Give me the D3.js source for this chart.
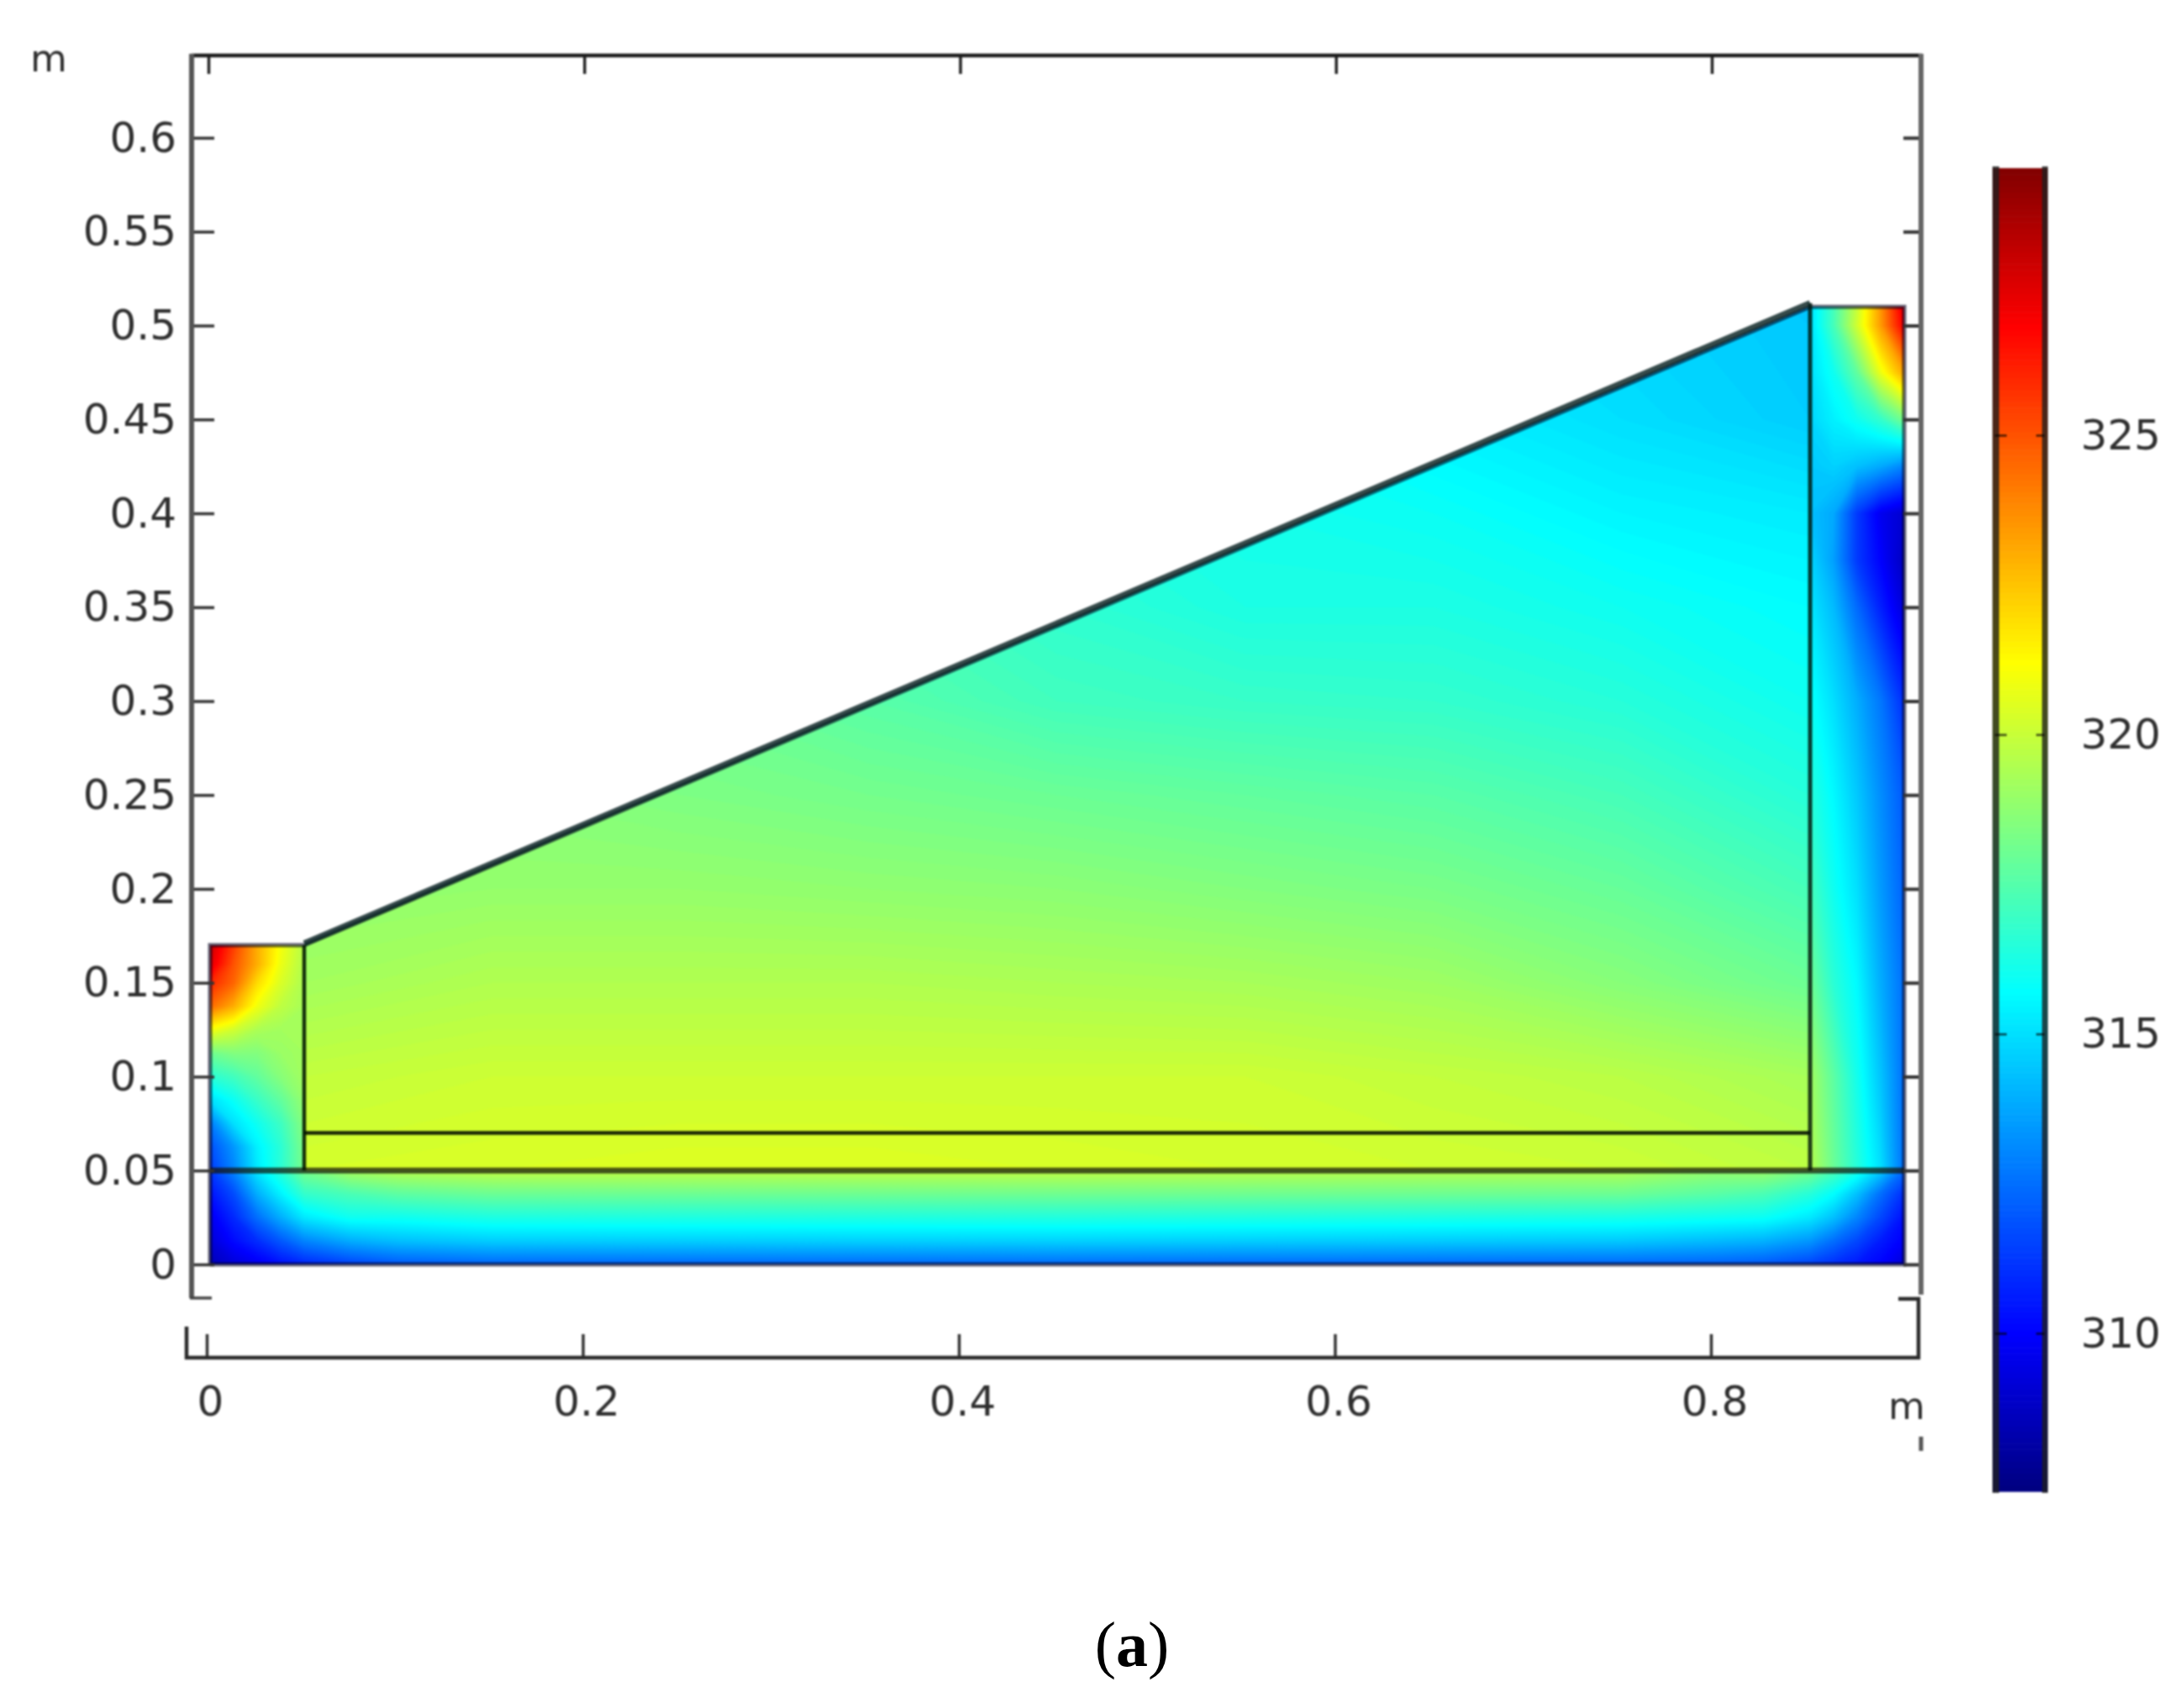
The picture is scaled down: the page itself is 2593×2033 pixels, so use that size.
<!DOCTYPE html>
<html><head><meta charset="utf-8">
<script src="https://cdn.jsdelivr.net/npm/d3@7/dist/d3.min.js"></script>
<style>
html,body{margin:0;padding:0;background:#fff}
svg{display:block}
text{font-family:"DejaVu Sans",sans-serif;fill:#2e2e2e}
</style></head><body>
<svg id="c" width="2593" height="2033"></svg>
<script>
// ---- tick labels ----
const yTicks=[0,0.05,0.1,0.15,0.2,0.25,0.3,0.35,0.4,0.45,0.5,0.55,0.6];
const xTicks=[0,0.2,0.4,0.6,0.8];
const barTicks=[310,315,320,325];
// ---- colour table (temperature, K -> colour) ----
const tempStops=[307.36,310,312.9,315.7,318.45,321.2,324,326.8,329.5];
const tempColors=["#00007f","#0000ff","#0080ff","#00ffff","#80ff80","#ffff00","#ff8000","#ff0000","#7f0000"];
// ---- geometry, metres ----
const domainOutline=[[0,0],[0.9,0],[0.9,0.51],[0.85,0.51],[0.05,0.17],[0,0.17],[0,0]];
const interiorOutline=[[0.05,0.05],[0.85,0.05],[0.85,0.51],[0.05,0.17]];
// ---- temperature: interior air ----
const airX=[0.05,0.15,0.25,0.35,0.45,0.55,0.65,0.75,0.85];
const airY=[0.05,0.1,0.15,0.2,0.25,0.3,0.35,0.4,0.45,0.5,0.55];
const airT=[
[320.3,320.4,320.5,320.5,320.4,320.3,320.2,320.1,319.8],
[319.9,320.1,320.1,320.1,320.1,320.1,319.9,319.7,319.3],
[319.2,319.5,319.5,319.5,319.4,319.3,319.1,318.6,318.0],
[318.8,318.9,318.9,318.8,318.7,318.5,318.3,317.9,317.2],
[318.5,318.6,318.4,318.2,318.0,317.8,317.6,317.2,316.5],
[318.2,318.3,318.0,317.6,317.1,316.9,316.8,316.5,316.0],
[318.0,318.0,317.7,317.2,316.7,316.3,316.3,316.0,315.7],
[317.8,317.8,317.4,316.9,316.4,316.1,315.9,315.5,315.3],
[317.6,317.6,317.2,316.7,316.2,315.8,315.4,315.0,314.6],
[317.4,317.4,317.0,316.5,316.0,315.5,315.1,314.8,314.5],
[317.2,317.2,316.8,316.3,315.8,315.3,314.9,314.6,314.3]];
// ---- bottom slab ----
const slabX=[0,0.0125,0.025,0.0375,0.05,0.075,0.1,0.15,0.45,0.75,0.8,0.825,0.85,0.8625,0.875,0.8875,0.9];
const slabY=[0,0.0125,0.025,0.0375,0.05];
const slabT=[
[308.5,309.2,309.7,310.3,310.8,311.5,312.0,312.3,312.4,312.3,312.2,312.0,311.5,311.0,310.5,310.0,309.2],
[309.2,310.2,311.0,312.0,313.0,313.9,314.3,314.6,314.7,314.5,314.2,314.0,313.4,312.5,311.6,310.6,309.9],
[309.7,310.9,312.5,313.9,315.2,316.0,316.0,316.3,316.4,316.2,316.0,315.9,315.2,314.3,313.0,311.6,310.3],
[310.4,311.7,313.9,315.4,316.8,317.3,317.7,318.0,318.1,318.0,317.6,317.3,316.5,315.7,314.3,312.5,311.0],
[311.3,313.0,315.2,316.6,318.3,319.3,319.6,319.8,319.8,319.5,318.9,319.0,318.3,317.3,316.2,314.6,312.4]];
// ---- left wall ----
const leftX=[0,0.0125,0.025,0.0375,0.05];
const leftY=[0.05,0.0625,0.075,0.0875,0.1,0.1125,0.125,0.1375,0.15,0.16,0.17];
const leftT=[
[311.3,313.0,315.2,316.6,318.3],
[311.8,313.4,315.4,316.6,318.4],
[312.8,315.0,316.0,317.0,318.6],
[315.0,315.9,316.9,317.8,318.9],
[316.6,317.1,317.8,318.6,319.2],
[318.1,318.5,318.5,319.0,319.2],
[321.0,320.2,319.4,319.2,319.2],
[324.5,323.0,320.9,319.8,319.3],
[326.0,324.6,322.0,320.4,319.4],
[327.5,325.0,323.0,320.8,319.5],
[328.0,325.5,323.0,321.0,319.6]];
// ---- right wall ----
const rightX=[0.85,0.8625,0.875,0.8875,0.9];
const rightY=[0.05,0.1,0.15,0.2,0.25,0.3,0.35,0.375,0.4,0.425,0.45,0.475,0.5,0.51];
const rightT=[
[319.6,318.0,316.5,315.0,312.5],
[319.2,317.7,316.1,314.4,312.5],
[318.1,316.6,315.6,313.9,312.5],
[317.2,316.0,315.0,313.5,312.2],
[316.5,315.6,314.5,313.2,312.0],
[315.9,315.0,313.9,312.7,311.0],
[315.2,314.2,312.4,310.7,309.2],
[314.8,313.6,311.3,310.0,308.7],
[314.3,313.8,311.3,309.7,309.0],
[314.5,314.7,314.3,313.8,313.0],
[314.8,315.4,316.0,316.8,318.3],
[315.0,316.0,317.8,320.8,323.2],
[315.0,317.2,320.2,323.4,327.0],
[315.0,317.2,320.0,323.5,327.5]];

// ---- scales ----
const svg=d3.select("#c");
const root=svg.append("g").style("filter","blur(0.9px)");
const x=d3.scaleLinear().domain([0,0.9]).range([250,2266]);
const y=d3.scaleLinear().domain([0,0.6]).range([1505,164]);
const xAxisScale=d3.scaleLinear().domain([0,0.8]).range([246,2036]);
const xTopScale=d3.scaleLinear().domain([0,0.8]).range([248,2037]);
const tempY=d3.scaleLinear().domain([310,325]).range([1587,518]);
const color=d3.scaleLinear().domain(tempStops).range(tempColors).interpolate(d3.interpolateRgb).clamp(true);
const levels=d3.range(307.3,329.6,0.1);

// ---- temperature field as filled contours ----
function drawField(xs,ys,rows,clipId){
  const nx=xs.length,ny=ys.length,flat=rows.flat();
  const gx=d3.scaleLinear().domain(xs.map((_,i)=>i+0.5)).range(xs.map(v=>x(v))).clamp(true);
  const gy=d3.scaleLinear().domain(ys.map((_,j)=>j+0.5)).range(ys.map(v=>y(v))).clamp(true);
  const path=d3.geoPath(d3.geoTransform({point(px,py){this.stream.point(gx(px),gy(py));}}));
  const cs=d3.contours().size([nx,ny]).smooth(true).thresholds(levels)(flat);
  const g=root.append("g");
  if(clipId) g.attr("clip-path",`url(#${clipId})`);
  g.selectAll("path").data(cs.filter(c=>c.coordinates.length)).join("path")
    .attr("d",path).attr("fill",d=>color(d.value+0.05));
}
const line=d3.line().x(d=>x(d[0])).y(d=>y(d[1]));
svg.append("defs").append("clipPath").attr("id","airClip").append("path").attr("d",line(interiorOutline)+"Z");
drawField(slabX,slabY,slabT);
drawField(leftX,leftY,leftT);
drawField(rightX,rightY,rightT);
drawField(airX,airY,airT,"airClip");

// ---- geometry lines ----
const geo=root.append("g").attr("fill","none");
geo.append("path").attr("d",line(domainOutline)).attr("stroke","rgba(0,0,30,.6)").attr("stroke-width",5);
geo.append("path").attr("d",line([[0,0.05],[0.9,0.05]])).attr("stroke","rgba(20,20,10,.72)").attr("stroke-width",7);
geo.append("path").attr("d",line([[0.05,0.07],[0.85,0.07]])).attr("stroke","rgba(0,10,0,.88)").attr("stroke-width",4.5);
geo.append("path").attr("d",line([[0.05,0.05],[0.05,0.17]])).attr("stroke","rgba(0,20,0,.88)").attr("stroke-width",4.5);
geo.append("path").attr("d",line([[0.85,0.05],[0.85,0.512]])).attr("stroke","rgba(0,20,10,.82)").attr("stroke-width",5);
geo.append("path").attr("d",line([[0.05,0.171],[0.85,0.512]])).attr("stroke","rgba(10,35,35,.82)").attr("stroke-width",7);

// ---- axes ----
function styleAxis(g,stroke,w){
  g.selectAll(".tick line").attr("stroke",stroke).attr("stroke-width",w);
  g.selectAll(".tick text").attr("fill","#2e2e2e").style("font-size","50px").style("font-family","'DejaVu Sans',sans-serif");
}
const fmt=d=>String(+d.toFixed(2));
const frame=(pts,stroke,w)=>root.append("path").attr("d",d3.line()(pts)).attr("fill","none").attr("stroke",stroke).attr("stroke-width",w);

const leftAxis=root.append("g").attr("transform","translate(228,0)")
  .call(d3.axisLeft(y).tickValues(yTicks).tickFormat(fmt).tickSizeInner(-27).tickSizeOuter(0).tickPadding(18));
leftAxis.select(".domain").remove(); styleAxis(leftAxis,"#333",3.5);
const rightAxis=root.append("g").attr("transform","translate(2286,0)")
  .call(d3.axisRight(y).tickValues(yTicks).tickFormat("").tickSizeInner(-21).tickSizeOuter(0));
rightAxis.select(".domain").remove(); styleAxis(rightAxis,"#333",4);
const topAxis=root.append("g").attr("transform","translate(0,66)")
  .call(d3.axisTop(xTopScale).tickValues(xTicks).tickFormat("").tickSizeInner(-22).tickSizeOuter(0));
topAxis.select(".domain").remove(); styleAxis(topAxis,"#222",3.5);
const bottomAxis=root.append("g").attr("transform","translate(0,1616)")
  .call(d3.axisBottom(xAxisScale).tickValues(xTicks).tickFormat(fmt).tickSizeInner(-28).tickSizeOuter(0).tickPadding(33));
bottomAxis.select(".domain").remove(); styleAxis(bottomAxis,"#333",3.5);
bottomAxis.selectAll(".tick text").attr("dx",4).attr("dy","0.71em");

frame([[228,66],[2287,66]],"#1c1c1c",4.5);
frame([[228,64],[228,1545]],"#555",6);
frame([[2286,64],[2286,1541]],"#666",6);
frame([[226,1545],[252,1545]],"#444",3.5);
frame([[222,1579],[222,1616],[2283,1616],[2283,1546],[2259,1546]],"#2a2a2a",4.5);
frame([[2286,1710],[2286,1727]],"#555",5);

root.append("text").attr("x",58).attr("y",85).attr("text-anchor","middle").style("font-size","45px").text("m");
root.append("text").attr("x",2269).attr("y",1689).attr("text-anchor","middle").style("font-size","45px").text("m");

// ---- colour bar ----
const bar=root.append("g");
bar.selectAll("rect").data(d3.range(307.36,329.4,0.1)).join("rect")
  .attr("x",2371).attr("width",66)
  .attr("y",d=>tempY(d+0.1)).attr("height",d=>tempY(d)-tempY(d+0.1)+0.6)
  .attr("fill",d=>color(d+0.05));
frame([[2375,198],[2375,1777]],"rgba(30,30,30,.8)",8);
frame([[2433.5,198],[2433.5,1777]],"rgba(30,30,30,.8)",7);
const barLeft=root.append("g").attr("transform","translate(2374,0)")
  .call(d3.axisLeft(tempY).tickValues(barTicks).tickFormat("").tickSizeInner(-14).tickSizeOuter(0));
barLeft.select(".domain").remove(); styleAxis(barLeft,"rgba(0,0,0,.7)",2.5);
const barRight=root.append("g").attr("transform","translate(2433,0)")
  .call(d3.axisRight(tempY).tickValues(barTicks).tickFormat(d=>d).tickSizeInner(-10).tickSizeOuter(0).tickPadding(43));
barRight.select(".domain").remove(); styleAxis(barRight,"rgba(0,0,0,.7)",2.5);

// ---- panel letter ----
const cap=svg.append("text").attr("x",1347).attr("y",1983).attr("text-anchor","middle")
  .style("font-family","'Liberation Serif',serif").style("font-size","76px").style("fill","#000");
cap.append("tspan").text("(");
cap.append("tspan").style("font-weight","bold").text("a");
cap.append("tspan").text(")");
</script>
</body></html>
